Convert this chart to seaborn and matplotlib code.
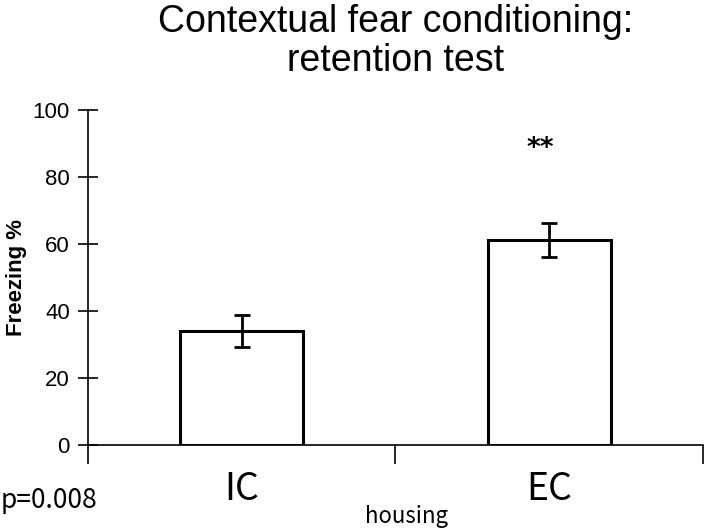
import seaborn as sns
import pandas as pd
import matplotlib.pyplot as plt
import matplotlib.ticker as mticker

# values
groups = ['IC', 'EC']
freezing = [34.0, 61.2]
sem = [4.8, 5.0]
star_y = 88.5
p_text = 'p=0.008'

sns.set_style('white')
plt.rcParams['font.family'] = ['Liberation Sans', 'DejaVu Sans']
plt.rcParams['text.color'] = 'black'
plt.rcParams['axes.labelcolor'] = 'black'
plt.rcParams['xtick.color'] = 'black'
plt.rcParams['ytick.color'] = 'black'

df = pd.DataFrame({'housing': groups, 'freezing': freezing})

fig = plt.figure(figsize=(7.05, 5.32), dpi=100)
ax = fig.add_axes([0.1248, 0.1635, 0.872, 0.6297])

sns.barplot(data=df, x='housing', y='freezing', order=groups, width=0.4,
            color='white', edgecolor='black', linewidth=2.2, ax=ax, errorbar=None)
ax.errorbar(range(len(groups)), freezing, yerr=sem, fmt='none', ecolor='black',
            elinewidth=2, capsize=6, capthick=2)

ax.set_xlim(-0.5, 1.5)
ax.set_ylim(0, 100)
ax.set_yticks([0, 20, 40, 60, 80, 100])
ax.tick_params(axis='y', left=True, direction='inout', length=14, width=1.2,
               labelsize=16, pad=6)

# x ticks at category boundaries, labels centred under bars
ax.set_xticks([-0.5, 0.5, 1.5])
ax.set_xticklabels([])
ax.xaxis.set_minor_locator(mticker.FixedLocator([0, 1]))
ax.xaxis.set_minor_formatter(mticker.FixedFormatter(groups))
ax.tick_params(axis='x', which='major', bottom=True, direction='out', length=14, width=1.2)
ax.tick_params(axis='x', which='minor', bottom=True, length=0, labelsize=27, pad=18)
for lbl in ax.get_xticklabels(minor=True):
    lbl.set_family(['Noto Sans CJK JP', 'DejaVu Sans'])

for side in ['top', 'right']:
    ax.spines[side].set_visible(False)
for side in ['left', 'bottom']:
    ax.spines[side].set_linewidth(1.2)
    ax.spines[side].set_color('black')

ax.set_xlabel('')
ax.set_ylabel('Freezing %', fontsize=16, fontweight='bold', labelpad=4)
ax.set_title('Contextual fear conditioning:\nretention test', fontsize=27, pad=28,
             linespacing=1.1)

ax.text(0.97, star_y, '**', ha='center', va='center', fontsize=19,
        fontweight='bold', family='DejaVu Sans')

fig.text(406 / 705, 1 - 517 / 532, 'housing', ha='center', va='center', fontsize=16,
         family=['Noto Sans CJK JP', 'DejaVu Sans'])
fig.text(0.001, 1 - 500 / 532, p_text, ha='left', va='center', fontsize=19,
         family=['Noto Sans CJK JP', 'DejaVu Sans'])

fig.savefig('out.png', dpi=100)
